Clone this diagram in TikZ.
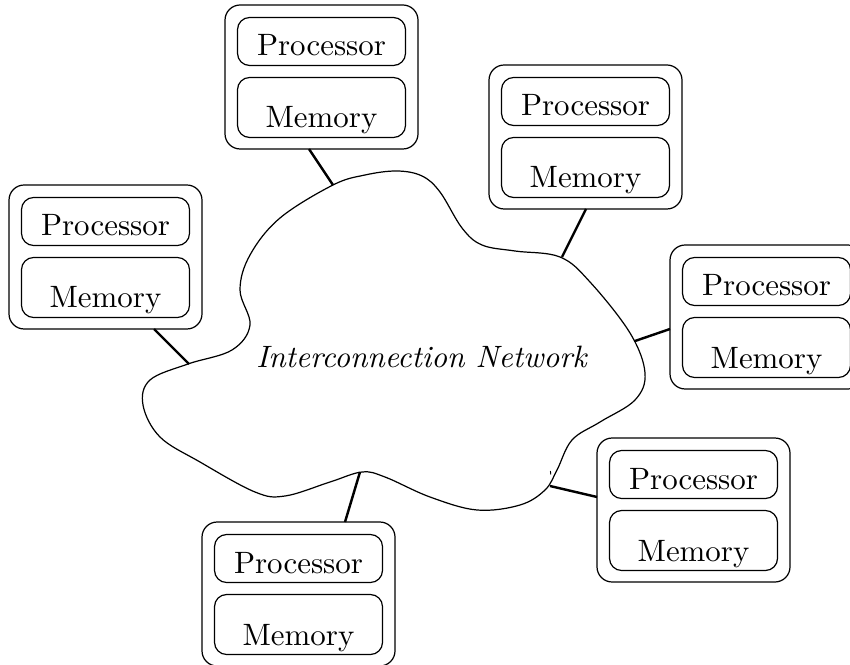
\documentclass[tikz,border=0pt]{standalone}
\usetikzlibrary{calc}
\def\px{0.33pt}
\tikzset{
  outerbox/.style={draw, rectangle, rounded corners=5pt, inner sep=0pt, outer sep=0pt,
    minimum width=193*\px, minimum height=144*\px, anchor=north west},
  procbox/.style={draw, rectangle, rounded corners=4pt, inner sep=0pt, outer sep=0pt,
    minimum width=168*\px, minimum height=48*\px, anchor=north west},
  membox/.style={draw, rectangle, rounded corners=4pt, inner sep=0pt, outer sep=0pt,
    minimum width=168*\px, minimum height=60*\px, anchor=north west},
  lbl/.style={anchor=base, inner sep=0pt, font=\fontsize{10.2}{12}\selectfont},
  link/.style={line width=0.8pt},
  cloudline/.style={line width=0.4pt}
}
\newcommand\pmunit[3]{%
  \begin{scope}[shift={(#2,#3)}]
    \node[outerbox] (#1) at (0,0) {};
    \node[procbox] (#1p) at (12.5,12.5) {};
    \node[membox] (#1m) at (12.5,72.5) {};
    \node[lbl] (#1pt) at (96.5,51) {Processor};
    \node[lbl] (#1mt) at (96.5,123) {Memory};
  \end{scope}}
\begin{document}
\begin{tikzpicture}[x=\px, y=-\px]
\useasboundingbox (0,0) rectangle (850,664);
% cloud
\draw[cloudline] plot[smooth cycle, tension=0.6] coordinates {
(333,185) (365,175) (397,171) (422,176) (440,192) (462,228) (482,245)
(515,251) (560,257) (590,282) (630,333) (645,373) (635,400) (600,422)
(572,440) (557,470) (545,490) (520,505) (477,510) (430,497) (385,477)
(362,472) (330,482) (285,496) (255,492) (200,462) (160,437) (143,405)
(150,380) (188,364) (232,350) (250,325) (240,290) (250,255) (280,218)};
\draw[line width=0.3pt] (550.4,471) -- (550.8,474.5);
\node[anchor=base, inner sep=0pt, font=\fontsize{10.2}{12}\selectfont] (net) at (421.5,367) {\itshape Interconnection Network};
% cloud attachment points
\coordinate (c1) at (333,185);
\coordinate (c2) at (562,257);
\coordinate (c3) at (189,364);
\coordinate (c4) at (635,341);
\coordinate (c5) at (550,486);
\coordinate (c6) at (360,472);
% units
\pmunit{u1}{225}{5}
\pmunit{u2}{489}{65}
\pmunit{u3}{9}{185}
\pmunit{u4}{670}{245}
\pmunit{u5}{597}{438}
\pmunit{u6}{202}{522}
% connectors
\draw[link] ($(u1.south west)+(84,0)$) -- (c1);
\draw[link] ($(u2.south west)+(97,0)$) -- (c2);
\draw[link] ($(u3.south west)+(145,0)$) -- (c3);
\draw[link] ($(u4.north west)+(0,84)$) -- (c4);
\draw[link] ($(u5.north west)+(0,59)$) -- (c5);
\draw[link] ($(u6.north west)+(143,0)$) -- (c6);
\end{tikzpicture}
\end{document}
